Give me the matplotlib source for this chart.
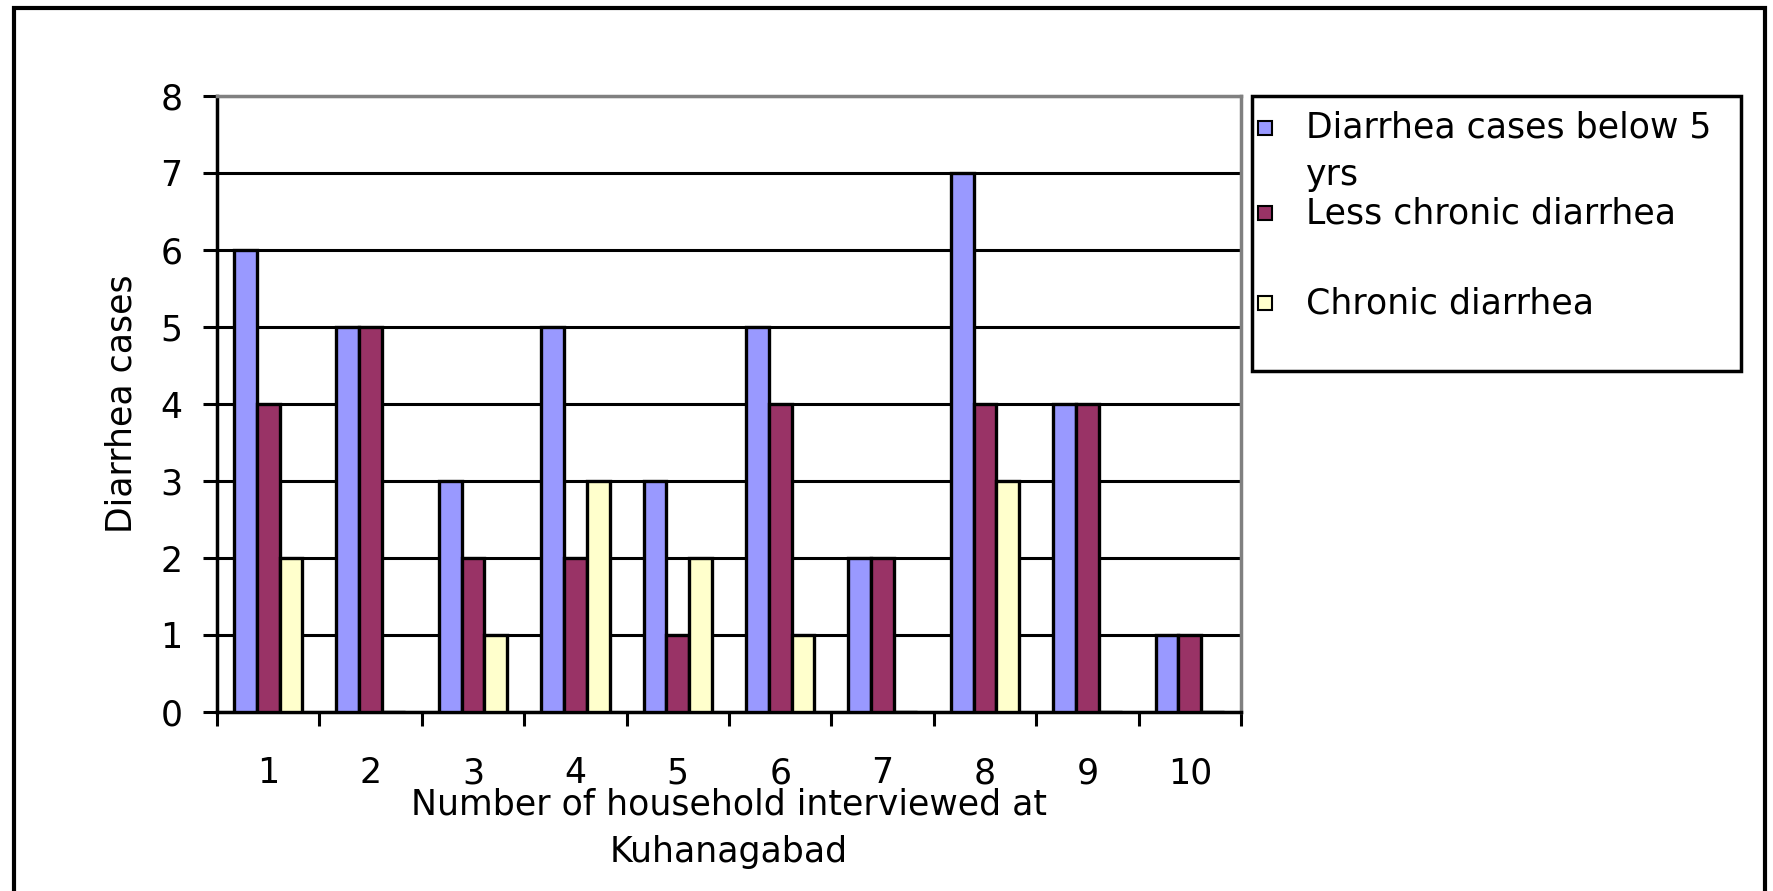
import numpy as np
import matplotlib
matplotlib.use("Agg")
import matplotlib.pyplot as plt
from matplotlib.patches import Rectangle

plt.rcParams['font.family'] = ['DejaVu Sans']

# data
households = ['1', '2', '3', '4', '5', '6', '7', '8', '9', '10']
below5 = [6, 5, 3, 5, 3, 5, 2, 7, 4, 1]
less_chronic = [4, 5, 2, 2, 1, 4, 2, 4, 4, 1]
chronic = [2, 0, 1, 3, 2, 1, 0, 3, 0, 0]
series_names = ['Diarrhea cases below 5\nyrs', 'Less chronic diarrhea', 'Chronic diarrhea']
colors = ['#9999FF', '#993366', '#FFFFCC']

W, H = 1773, 891
fig = plt.figure(figsize=(W / 100, H / 100), dpi=100)

def fx(px):
    return px / W

def fy(py):
    return 1 - py / H

ax = fig.add_axes([fx(217), fy(712), fx(1241) - fx(217), fy(96) - fy(712)])

x = np.arange(1, len(households) + 1)
bw = 1 / 4.5
for i, (vals, c) in enumerate(zip([below5, less_chronic, chronic], colors)):
    ax.bar(x + (i - 1) * bw, vals, width=bw, color=c, edgecolor='black',
           linewidth=2.4, zorder=3)

ax.set_xlim(0.5, len(households) + 0.5)
ax.set_ylim(0, 8)
ax.set_yticks(range(0, 9))
ax.yaxis.grid(True, color='black', linewidth=2.2, zorder=0)
ax.set_axisbelow(True)

# tick marks between categories, labels at centres
ax.set_xticks(np.arange(0.5, len(households) + 1, 1))
ax.set_xticklabels([])
ax.set_xticks(x, minor=True)
ax.set_xticklabels(households, minor=True)
ax.tick_params(axis='x', which='major', direction='out', length=10, width=2.2)
ax.tick_params(axis='x', which='minor', length=0, pad=32, labelsize=25)
ax.tick_params(axis='y', direction='out', length=10, width=2.2, pad=15, labelsize=25)

for s in ['left', 'bottom']:
    ax.spines[s].set_linewidth(2.5)
    ax.spines[s].set_color('black')
for s in ['top', 'right']:
    ax.spines[s].set_linewidth(2.5)
    ax.spines[s].set_color('#808080')

ax.set_xlabel('Number of household interviewed at\nKuhanagabad', fontsize=25,
              linespacing=1.5)
ax.xaxis.set_label_coords(0.5, -0.122)
ax.set_ylabel('Diarrhea cases', fontsize=25)
ax.yaxis.set_label_coords(-0.077, 0.5)

# legend box drawn like the spreadsheet legend
fig.patches.append(Rectangle((fx(1252), fy(371)), fx(1741) - fx(1252), fy(96) - fy(371),
                             transform=fig.transFigure, fill=False,
                             edgecolor='black', linewidth=2.5))
legend_rows = [128, 213, 303]
for name, c, row in zip(series_names, colors, legend_rows):
    fig.patches.append(Rectangle((fx(1258), fy(row + 7)), fx(14), 14 / H,
                                 transform=fig.transFigure, facecolor=c,
                                 edgecolor='black', linewidth=1.5))
    fig.text(fx(1306), fy(row - 17), name, fontsize=25, va='top', ha='left',
             linespacing=1.5)

# outer chart border
fig.patches.append(Rectangle((fx(14), fy(893)), fx(1765) - fx(14), fy(8) - fy(893),
                             transform=fig.transFigure, fill=False,
                             edgecolor='black', linewidth=3))

fig.savefig('out.png', dpi=100)
